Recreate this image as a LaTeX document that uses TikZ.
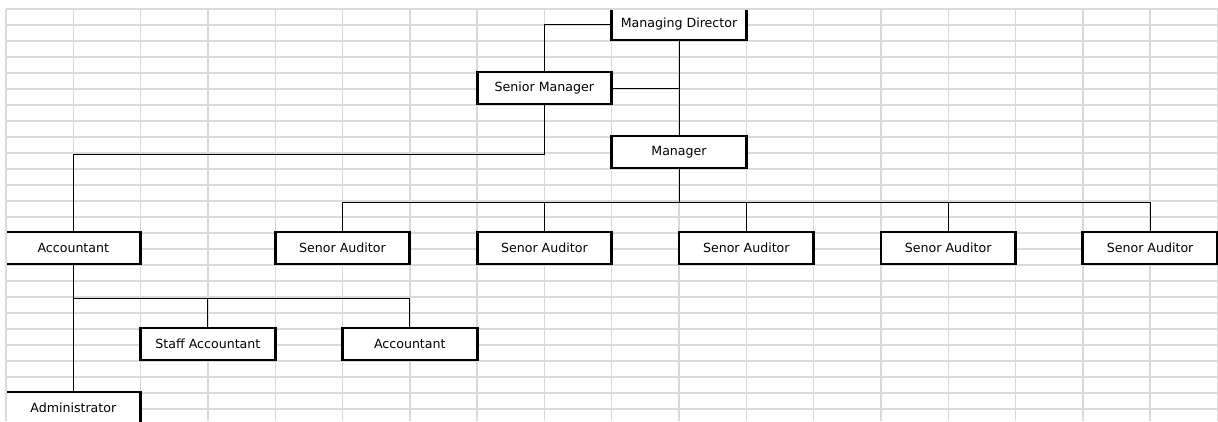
\documentclass[tikz,border=0pt]{standalone}
\usepackage{fontspec}
\newfontfamily\boxfont{DejaVu Sans}
\definecolor{gridgrey}{RGB}{218,218,218}
\begin{document}
\begin{tikzpicture}[x=1pt,y=-1pt,
  orgbox/.style={draw=black, line width=2.8pt, fill=white, inner sep=0pt,
    minimum width=134.6pt, minimum height=32pt,
    font=\boxfont\fontsize{12.6}{14}\selectfont},
  link/.style={draw=black, line width=1pt}]
\useasboundingbox (0,0) rectangle (1218,421);
\fill[white] (0,0) rectangle (1218,421);
% spreadsheet grid
\foreach \k in {0,...,18} {
  \draw[gridgrey, line width=1.4pt] ({6+67.3*\k},9) -- ({6+67.3*\k},421);
}
\foreach \j in {0,...,25} {
  \draw[gridgrey, line width=1.4pt] (6,{9+16*\j}) -- (1218,{9+16*\j});
}
\begin{scope}
\clip (7.2,10.2) rectangle (1218,421);
\node[orgbox] (md)   at (679.0,24)  {Managing Director};
\node[orgbox] (sm)   at (544.4,88)  {Senior Manager};
\node[orgbox] (mgr)  at (679.0,152) {Manager};
\node[orgbox] (acc)  at (73.3,248)  {Accountant};
\node[orgbox] (sa1)  at (342.5,248) {Senor Auditor};
\node[orgbox] (sa2)  at (544.4,248) {Senor Auditor};
\node[orgbox] (sa3)  at (746.3,248) {Senor Auditor};
\node[orgbox] (sa4)  at (948.2,248) {Senor Auditor};
\node[orgbox] (sa5)  at (1150.1,248) {Senor Auditor};
\node[orgbox] (staff) at (207.9,344) {Staff Accountant};
\node[orgbox] (acc2) at (409.8,344) {Accountant};
\node[orgbox] (adm)  at (73.3,408)  {Administrator};
\end{scope}
% connectors
\draw[link] (md.west) -| (sm.north);
\draw[link] (md.south) -- (mgr.north);
\draw[link] (sm.east) -- (sm.east -| md.south);
\draw[link] (sm.south) -- ++(0,49) coordinate (j1) -| (acc.north);
\draw[link] (mgr.south) -- ++(0,33) coordinate (bus);
\draw[link] (bus) -| (sa1.north);
\draw[link] (bus) -| (sa2.north);
\draw[link] (bus) -| (sa3.north);
\draw[link] (bus) -| (sa4.north);
\draw[link] (bus) -| (sa5.north);
\draw[link] (acc.south) -- (adm.north);
\draw[link] (acc.south) ++(0,33) coordinate (bus2);
\draw[link] (bus2) -| (staff.north);
\draw[link] (bus2) -| (acc2.north);
\end{tikzpicture}
\end{document}
